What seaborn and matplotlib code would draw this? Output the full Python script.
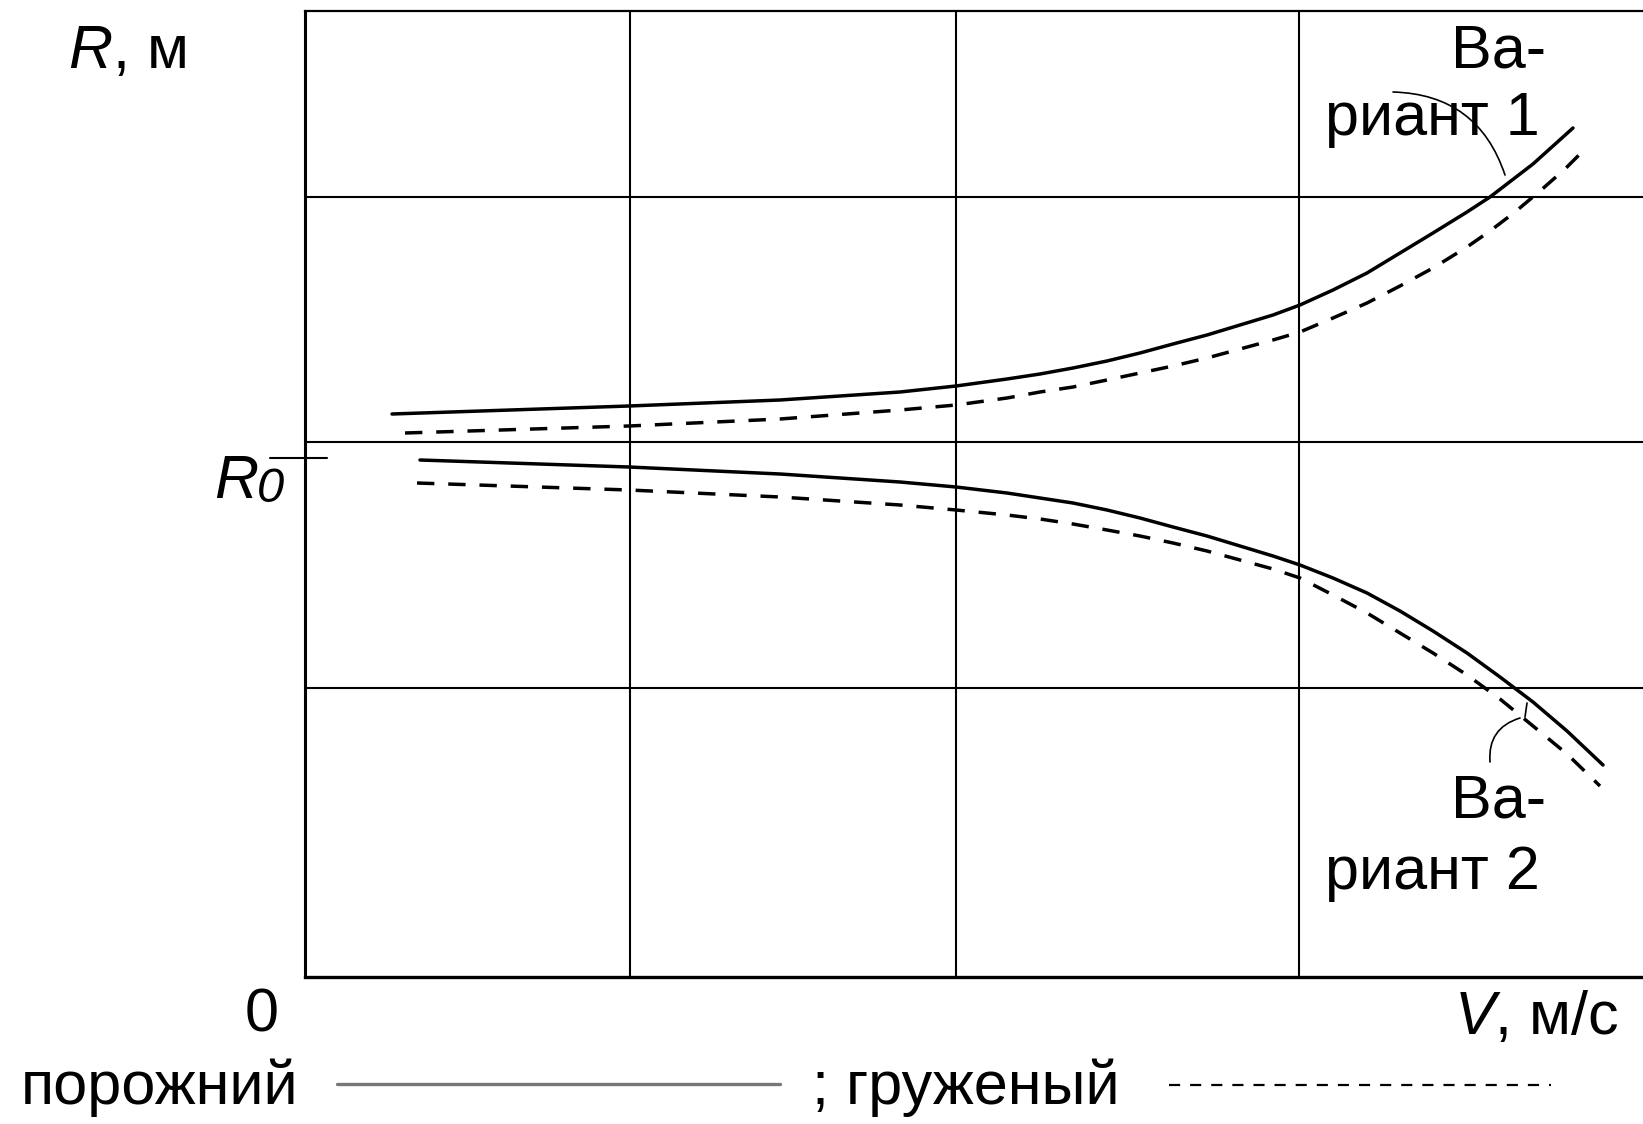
import numpy as np
import pandas as pd
import matplotlib
matplotlib.use("Agg")
import matplotlib.pyplot as plt
from matplotlib.lines import Line2D
import seaborn as sns

# --- data (arbitrary units, the original has no tick values) ---
v1_empty_v = [0.87, 3.24, 4.75, 5.95, 6.51, 7.02, 7.35, 7.68, 8.02, 8.35, 8.68, 9.02, 9.35,
              9.68, 9.95, 10.28, 10.62, 10.95, 11.28, 11.62, 11.85, 12.28, 12.68]
v1_empty_r = [5.63, 5.71, 5.77, 5.85, 5.91, 5.98, 6.03, 6.09, 6.16, 6.24, 6.33, 6.42, 6.52,
              6.62, 6.72, 6.87, 7.04, 7.24, 7.44, 7.65, 7.80, 8.13, 8.49]

v1_loaded_v = [1.00, 3.24, 4.75, 5.95, 6.51, 7.02, 7.35, 7.68, 8.02, 8.35, 8.68, 9.02, 9.35,
               9.68, 9.95, 10.28, 10.62, 10.95, 11.28, 11.62, 11.85, 12.10, 12.35, 12.60, 12.82]
v1_loaded_r = [5.44, 5.51, 5.58, 5.67, 5.72, 5.79, 5.85, 5.90, 5.97, 6.04, 6.11, 6.19, 6.28,
               6.37, 6.45, 6.59, 6.74, 6.91, 7.09, 7.30, 7.46, 7.65, 7.86, 8.08, 8.30]

v2_empty_v = [1.15, 3.24, 4.75, 5.95, 6.51, 7.02, 7.35, 7.68, 8.02, 8.35, 8.68, 9.02, 9.35,
              9.68, 9.95, 10.28, 10.62, 10.95, 11.28, 11.62, 11.95, 12.28, 12.62, 12.98]
v2_empty_r = [5.17, 5.10, 5.03, 4.95, 4.90, 4.84, 4.79, 4.74, 4.67, 4.59, 4.50, 4.41, 4.31,
              4.21, 4.12, 3.99, 3.84, 3.66, 3.46, 3.24, 3.00, 2.75, 2.46, 2.12]

v2_loaded_v = [1.12, 3.24, 4.75, 5.95, 6.51, 7.02, 7.35, 7.68, 8.02, 8.35, 8.68, 9.02, 9.35,
               9.68, 9.95, 10.28, 10.62, 10.95, 11.28, 11.62, 11.95, 12.28, 12.62, 12.95]
v2_loaded_r = [4.94, 4.87, 4.80, 4.72, 4.67, 4.62, 4.58, 4.53, 4.47, 4.41, 4.34, 4.26, 4.17,
               4.08, 3.99, 3.82, 3.64, 3.44, 3.24, 3.02, 2.78, 2.51, 2.23, 1.91]

grid_v = [3.25, 6.51, 9.94]
grid_r = [2.89, 5.35, 7.80]
r0 = 5.19
v_max, r_max = 13.38, 9.665

W, H = 1643, 1124

sns.set_style("white")
plt.rcParams["font.family"] = ["Liberation Sans", "DejaVu Sans"]
plt.rcParams["text.color"] = "black"
plt.rcParams["mathtext.fontset"] = "custom"
plt.rcParams["mathtext.rm"] = "Liberation Sans"
plt.rcParams["mathtext.it"] = "Liberation Sans:italic"

FS = 44


def fx(px):
    return px / W


def fy(py):
    return 1 - py / H


fig = plt.figure(figsize=(W / 100, H / 100), dpi=100)
ax = fig.add_axes([fx(305), fy(977), fx(W - 305), (977 - 10.5) / H])

series = [
    (v1_empty_v, v1_empty_r, "solid"),
    (v1_loaded_v, v1_loaded_r, "dashed"),
    (v2_empty_v, v2_empty_r, "solid"),
    (v2_loaded_v, v2_loaded_r, "dashed"),
]
for xs, ys, kind in series:
    df = pd.DataFrame({"V": xs, "R": ys})
    ls = "-" if kind == "solid" else (0, (5.0, 4.0))
    sns.lineplot(data=df, x="V", y="R", ax=ax, sort=False, estimator=None,
                 color="black", linewidth=2.5, linestyle=ls)

ax.set_xlim(0, v_max)
ax.set_ylim(0, r_max)
ax.set_xticks(grid_v)
ax.set_yticks(grid_r)
ax.set_xticklabels([])
ax.set_yticklabels([])
ax.tick_params(length=0)
ax.grid(True, color="black", linewidth=1.5)
ax.set_xlabel("")
ax.set_ylabel("")
for side in ["left", "bottom", "top"]:
    ax.spines[side].set_visible(True)
    ax.spines[side].set_color("black")
ax.spines["right"].set_visible(False)
ax.spines["left"].set_linewidth(2.2)
ax.spines["bottom"].set_linewidth(2.4)
ax.spines["top"].set_linewidth(1.6)

# R0 mark on the left axis
ax.annotate("", xy=(0.22, r0), xytext=(-0.35, r0), xycoords="data",
            arrowprops=dict(arrowstyle="-", color="black", lw=1.5,
                            shrinkA=0, shrinkB=0), annotation_clip=False)

# curve labels
ax.text(11.46, 9.25, "Ва-", fontsize=FS, ha="left", va="center")
ax.text(10.20, 8.57, "риант 1", fontsize=FS, ha="left", va="center")
ax.text(11.46, 1.75, "Ва-", fontsize=FS, ha="left", va="center")
ax.text(10.20, 1.04, "риант 2", fontsize=FS, ha="left", va="center")

ax.annotate("", xy=(12.00, 8.02), xytext=(10.88, 8.85),
            arrowprops=dict(arrowstyle="-", color="black", lw=1.2,
                            connectionstyle="arc3,rad=-0.35", shrinkA=0, shrinkB=0))
ax.annotate("", xy=(12.15, 2.59), xytext=(11.85, 2.15),
            arrowprops=dict(arrowstyle="-", color="black", lw=1.2,
                            connectionstyle="arc3,rad=-0.4", shrinkA=0, shrinkB=0))
ax.annotate("", xy=(12.22, 2.74), xytext=(12.20, 2.60),
            arrowprops=dict(arrowstyle="-", color="black", lw=1.2,
                            shrinkA=0, shrinkB=0))

# axis captions
fig.text(fx(68), fy(52), r"$\mathit{R}$, м", fontsize=FS, ha="left", va="center")
fig.text(fx(214), fy(482), "R", fontsize=FS, fontstyle="italic", ha="left", va="center")
fig.text(fx(257), fy(490), "0", fontsize=FS * 0.8, fontstyle="italic", ha="left", va="center")
fig.text(fx(262), fy(1016), "0", fontsize=FS, ha="center", va="center")
fig.text(fx(1619), fy(1018), r"$\mathit{V}$, м/с", fontsize=FS, ha="right", va="center")

# legend row under the chart
fig.text(fx(21), fy(1088), "порожний", fontsize=FS, ha="left", va="center")
fig.add_artist(Line2D([fx(337), fx(780)], [fy(1084), fy(1084)], color="#777777", lw=2.4))
fig.text(fx(812), fy(1088), "; груженый", fontsize=FS, ha="left", va="center")
fig.add_artist(Line2D([fx(1169), fx(1551)], [fy(1085), fy(1085)], color="black", lw=1.6,
                      linestyle=(0, (5, 4.5))))

fig.savefig("out.png", dpi=100)
